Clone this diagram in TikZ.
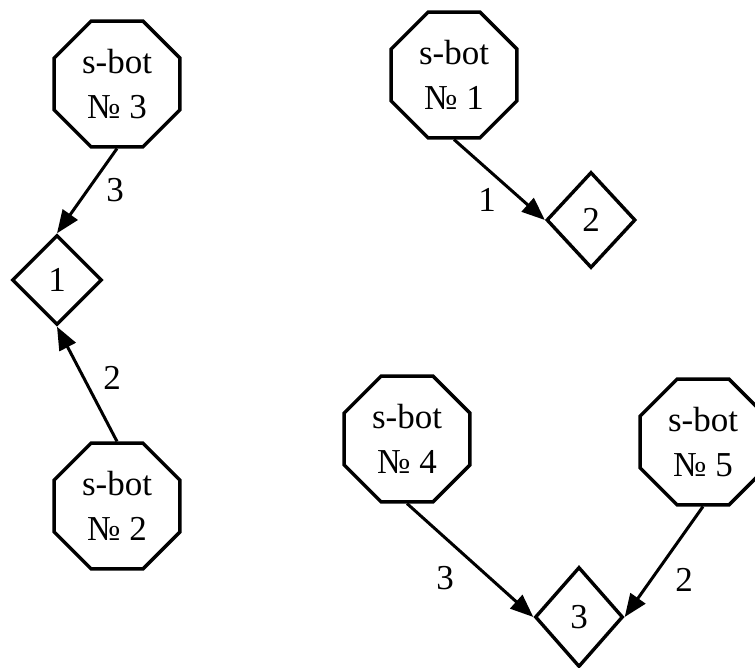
\documentclass[tikz,border=0pt]{standalone}
\usepackage{fontspec}
\setmainfont{Liberation Serif}
\usetikzlibrary{shapes.geometric,arrows.meta}
\begin{document}
\begin{tikzpicture}[x=1pt,y=-1pt,
  bot/.style={regular polygon, regular polygon sides=8, draw, line width=3.4pt, inner sep=0pt, minimum size=136pt, align=center, font=\fontsize{35}{45}\selectfont},
  cell/.style={diamond, draw, line width=3.4pt, inner sep=0pt, font=\fontsize{35}{40}\selectfont},
  link/.style={line width=3pt, -{Triangle[length=23pt,width=18pt]}},
  lbl/.style={font=\fontsize{35}{40}\selectfont, inner sep=0pt}]
\useasboundingbox (0,0) rectangle (755,668);
\node[bot] (o3) at (117,84) {s-bot\\№ 3};
\node[bot] (o1) at (454,75) {s-bot\\№ 1};
\node[bot] (o2) at (117,506) {s-bot\\№ 2};
\node[bot] (o4) at (407,439) {s-bot\\№ 4};
\node[bot] (o5) at (703,442) {s-bot\\№ 5};
\node[cell, minimum width=90pt, minimum height=90pt] (d1) at (57,280) {1};
\node[cell, minimum width=89pt, minimum height=96pt] (d2) at (591,220) {2};
\node[cell, minimum width=88pt, minimum height=100pt] (d3) at (579,617) {3};
\draw[link] (o3.south) -- (d1.north);
\draw[link] (o2.north) -- (d1.south);
\draw[link] (o1.south) -- (d2.west);
\draw[link] (o4.south) -- (d3.west);
\draw[link] (o5.south) -- (d3.east);
\node[lbl] (l1) at (115,190) {3};
\node[lbl] (l2) at (112,378) {2};
\node[lbl] (l3) at (487,200) {1};
\node[lbl] (l4) at (445,578) {3};
\node[lbl] (l5) at (684,580) {2};
\end{tikzpicture}
\end{document}
